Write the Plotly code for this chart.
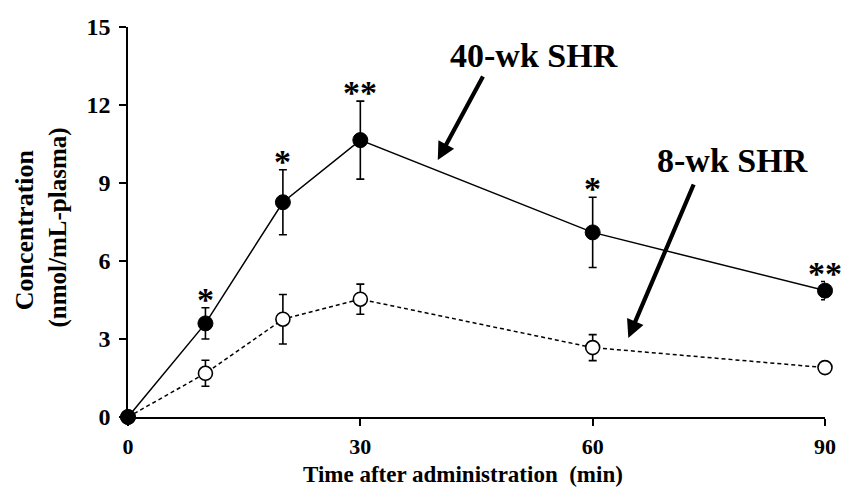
import plotly.graph_objects as go

time_min = [0, 10, 20, 30, 60, 90]
shr40_mean = [0, 3.6, 8.26, 10.65, 7.1, 4.86]
shr40_err = [0, 0.6, 1.25, 1.5, 1.35, 0.35]
shr8_mean = [0, 1.68, 3.76, 4.53, 2.67, 1.9]
shr8_err = [0, 0.5, 0.95, 0.58, 0.5, 0]
sig_marks = ["", "*", "*", "**", "*", "**"]
x_ticks = [0, 30, 60, 90]
y_ticks = [0, 3, 6, 9, 12, 15]

FONT = "Liberation Serif, Times New Roman, serif"

fig = go.Figure()

fig.add_trace(go.Scatter(
    x=time_min, y=shr8_mean,
    mode="lines+markers",
    line=dict(color="black", width=1.5, dash="4px,3px"),
    marker=dict(symbol="circle", size=14, color="white", line=dict(color="black", width=1.6)),
    error_y=dict(type="data", array=shr8_err, color="black", thickness=1.6, width=4),
    cliponaxis=False, showlegend=False,
))
fig.add_trace(go.Scatter(
    x=time_min, y=shr40_mean,
    mode="lines+markers",
    line=dict(color="black", width=1.5),
    marker=dict(symbol="circle", size=15, color="black", line=dict(color="black", width=1)),
    error_y=dict(type="data", array=shr40_err, color="black", thickness=1.6, width=4),
    cliponaxis=False, showlegend=False,
))

# significance asterisks
for x, m, e, s in zip(time_min, shr40_mean, shr40_err, sig_marks):
    if s:
        fig.add_annotation(x=x, y=m + e, text=s, showarrow=False, yanchor="bottom",
                           yshift=-12, font=dict(family=FONT, size=34, color="black", weight="bold"))

# labels with arrows
fig.add_annotation(x=40.0, y=9.88, ax=46, ay=-85, text="", showarrow=True,
                   arrowhead=2, arrowsize=0.85, arrowwidth=4.2, arrowcolor="black")
fig.add_annotation(x=52.4, y=13.92, text="<b>40-wk SHR</b>", showarrow=False,
                   xanchor="center", yanchor="middle",
                   font=dict(family=FONT, size=34, color="black"))
fig.add_annotation(x=64.6, y=3.04, ax=66, ay=-155, text="", showarrow=True,
                   arrowhead=2, arrowsize=0.85, arrowwidth=4.2, arrowcolor="black")
fig.add_annotation(x=78.1, y=9.88, text="<b>8-wk SHR</b>", showarrow=False,
                   xanchor="center", yanchor="middle",
                   font=dict(family=FONT, size=34, color="black"))

# axis titles
fig.add_annotation(xref="paper", yref="paper", x=-0.149, y=0.479, text="<b>Concentration</b>",
                   xanchor="center", yanchor="middle",
                   textangle=-90, showarrow=False, font=dict(family=FONT, size=26, color="black"))
fig.add_annotation(xref="paper", yref="paper", x=-0.101, y=0.485, text="<b>(nmol/mL-plasma)</b>",
                   xanchor="center", yanchor="middle",
                   textangle=-90, showarrow=False, font=dict(family=FONT, size=25, color="black"))
fig.add_annotation(xref="paper", yref="paper", x=0.48, y=-0.147, text="<b>Time after administration  (min)</b>",
                   xanchor="center", yanchor="middle",
                   showarrow=False, font=dict(family=FONT, size=23, color="black"))

fig.update_xaxes(range=[0, 90], tickvals=x_ticks, ticks="outside", ticklen=7, tickwidth=1.5,
                 tickcolor="black", showline=True, linecolor="black", linewidth=1.5,
                 showgrid=False, zeroline=False, ticklabelstandoff=2,
                 tickfont=dict(family=FONT, size=22, color="black", weight="bold"))
fig.update_yaxes(range=[0, 15], tickvals=y_ticks, ticks="outside", ticklen=7, tickwidth=1.5,
                 tickcolor="black", showline=True, linecolor="black", linewidth=1.5,
                 showgrid=False, zeroline=False, ticklabelstandoff=4,
                 tickfont=dict(family=FONT, size=24, color="black", weight="bold"))

fig.update_layout(width=848, height=487, margin=dict(l=128, r=16, t=27, b=70),
                  plot_bgcolor="white", paper_bgcolor="white")

fig.write_html("out.html")
